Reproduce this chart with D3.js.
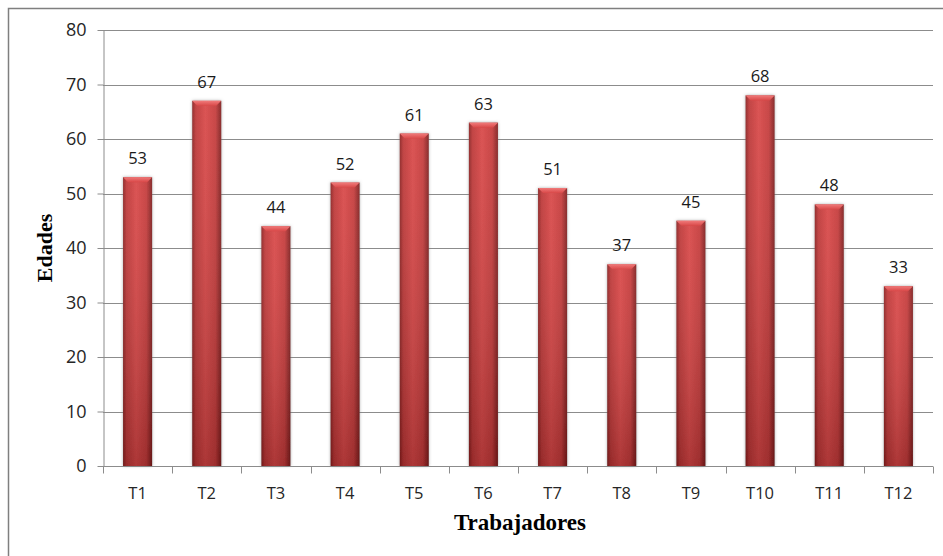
<!DOCTYPE html>
<html>
<head>
<meta charset="utf-8">
<script src="https://cdn.jsdelivr.net/npm/d3@7"></script>
<style>
	body { margin: 0; background: #fff; }
	svg text { font-family: "Open Sans", "Liberation Sans", sans-serif; }
	.axis-title { font-family: "Liberation Serif", "DejaVu Serif", serif !important; font-weight: bold; fill: #000; }
</style>
</head>
<body>
<div id="chart"></div>
<script>
var categories = ['T1', 'T2', 'T3', 'T4', 'T5', 'T6', 'T7', 'T8', 'T9', 'T10', 'T11', 'T12'];
var edades = [53, 67, 44, 52, 61, 63, 51, 37, 45, 68, 48, 33];
var yTicks = [0, 10, 20, 30, 40, 50, 60, 70, 80];

var width = 943,
	height = 556,
	margin = { top: 30, right: 10, bottom: 90, left: 103 },
	plotW = 933 - margin.left,
	plotH = 466 - margin.top;

var svg = d3.select('#chart').append('svg')
	.attr('width', width)
	.attr('height', height);

var defs = svg.append('defs');

// horizontal shading: dark edges, lighter middle
var hGrad = defs.append('linearGradient')
	.attr('id', 'bar-h')
	.attr('x1', 0).attr('y1', 0)
	.attr('x2', 1).attr('y2', 0);
hGrad.selectAll('stop')
	.data([
		{ offset: '0%', color: '#8a1f1f' },
		{ offset: '12%', color: '#bc3535' },
		{ offset: '45%', color: '#d84545' },
		{ offset: '80%', color: '#c43939' },
		{ offset: '100%', color: '#7e1c1c' }
	])
	.enter().append('stop')
	.attr('offset', function(d) { return d.offset; })
	.attr('stop-color', function(d) { return d.color; });

// vertical darkening towards the base
var vGrad = defs.append('linearGradient')
	.attr('id', 'bar-v')
	.attr('x1', 0).attr('y1', 0)
	.attr('x2', 0).attr('y2', 1);
vGrad.selectAll('stop')
	.data([
		{ offset: '0%', color: 'rgba(255,255,255,0.08)' },
		{ offset: '100%', color: 'rgba(0,0,0,0.2)' }
	])
	.enter().append('stop')
	.attr('offset', function(d) { return d.offset; })
	.attr('stop-color', function(d) { return d.color; });

var capGrad = defs.append('linearGradient')
	.attr('id', 'bar-cap')
	.attr('x1', 0).attr('y1', 0)
	.attr('x2', 0).attr('y2', 1);
capGrad.selectAll('stop')
	.data([
		{ offset: '0%', color: '#f07a7a' },
		{ offset: '100%', color: '#d84848' }
	])
	.enter().append('stop')
	.attr('offset', function(d) { return d.offset; })
	.attr('stop-color', function(d) { return d.color; });

var shadow = defs.append('filter')
	.attr('id', 'bar-shadow')
	.attr('x', '-30%').attr('y', '-5%')
	.attr('width', '160%').attr('height', '110%');
shadow.append('feDropShadow')
	.attr('dx', 0).attr('dy', 0)
	.attr('stdDeviation', 1.4)
	.attr('flood-color', '#777')
	.attr('flood-opacity', 0.6);

// outer frame (only top and left edges fall inside the picture)
svg.append('rect')
	.attr('x', 8.5).attr('y', 8.5)
	.attr('width', 950).attr('height', 560)
	.attr('fill', 'none')
	.attr('stroke', '#7f7f7f')
	.attr('stroke-width', 1.5);

var g = svg.append('g')
	.attr('transform', 'translate(' + margin.left + ',' + margin.top + ')');

var x = d3.scaleBand()
	.domain(categories)
	.range([0, plotW])
	.paddingInner(0.58)
	.paddingOuter(0.29);

var xEdges = d3.scaleLinear()
	.domain([0, categories.length])
	.range([0, plotW]);

var y = d3.scaleLinear()
	.domain([0, 80])
	.range([plotH, 0]);

// gridlines
g.append('g')
	.selectAll('line')
	.data(yTicks.slice(1))
	.enter().append('line')
	.attr('x1', 0).attr('x2', plotW)
	.attr('y1', function(d) { return Math.round(y(d)) + 0.5; })
	.attr('y2', function(d) { return Math.round(y(d)) + 0.5; })
	.attr('stroke', '#8c8c8c')
	.attr('stroke-width', 1);

// y axis
var yAxis = g.append('g')
	.attr('transform', 'translate(0.5,0)')
	.call(d3.axisLeft(y).tickValues(yTicks).tickSize(6).tickPadding(11).tickSizeOuter(0));
yAxis.attr('font-size', null).attr('font-family', null);
yAxis.select('.domain').attr('stroke', '#8c8c8c');
yAxis.selectAll('.tick line').attr('stroke', '#8c8c8c');
yAxis.selectAll('.tick text')
	.attr('fill', '#262626')
	.style('font-size', '18px');

// x axis: line with ticks at category boundaries
var xAxis = g.append('g')
	.attr('transform', 'translate(0,' + (plotH + 0.5) + ')');
xAxis.append('line')
	.attr('x1', 0).attr('x2', plotW)
	.attr('stroke', '#8c8c8c');
xAxis.selectAll('line.tick')
	.data(d3.range(categories.length + 1))
	.enter().append('line')
	.attr('class', 'tick')
	.attr('x1', function(d) { return Math.round(xEdges(d)) + 0.5; })
	.attr('x2', function(d) { return Math.round(xEdges(d)) + 0.5; })
	.attr('y1', 0).attr('y2', 7)
	.attr('stroke', '#8c8c8c');
xAxis.selectAll('text')
	.data(categories)
	.enter().append('text')
	.attr('x', function(d) { return x(d) + x.bandwidth() / 2; })
	.attr('y', 32)
	.attr('text-anchor', 'middle')
	.attr('fill', '#262626')
	.style('font-size', '16.5px')
	.text(function(d) { return d; });

// bars
var bars = g.append('g')
	.selectAll('g.bar')
	.data(edades)
	.enter().append('g')
	.attr('class', 'bar')
	.attr('filter', 'url(#bar-shadow)');

bars.append('rect')
	.attr('x', function(d, i) { return x(categories[i]); })
	.attr('y', function(d) { return y(d); })
	.attr('width', x.bandwidth())
	.attr('height', function(d) { return plotH - y(d); })
	.attr('fill', 'url(#bar-h)');

bars.append('rect')
	.attr('x', function(d, i) { return x(categories[i]); })
	.attr('y', function(d) { return y(d); })
	.attr('width', x.bandwidth())
	.attr('height', function(d) { return plotH - y(d); })
	.attr('fill', 'url(#bar-v)');

// bevelled top
bars.append('path')
	.attr('d', function(d, i) {
		var x0 = x(categories[i]),
			x1 = x0 + x.bandwidth(),
			y0 = y(d),
			b = 5;
		return 'M' + x0 + ',' + y0 + 'L' + x1 + ',' + y0 +
			'L' + (x1 - b) + ',' + (y0 + b) + 'L' + (x0 + b) + ',' + (y0 + b) + 'Z';
	})
	.attr('fill', 'url(#bar-cap)');

// value labels
g.append('g')
	.selectAll('text')
	.data(edades)
	.enter().append('text')
	.attr('x', function(d, i) { return x(categories[i]) + x.bandwidth() / 2; })
	.attr('y', function(d) { return y(d) - 13; })
	.attr('text-anchor', 'middle')
	.attr('fill', '#1a1a1a')
	.style('font-size', '16.5px')
	.text(function(d) { return d; });

// axis titles
svg.append('text')
	.attr('class', 'axis-title')
	.attr('transform', 'translate(52,248) rotate(-90)')
	.attr('text-anchor', 'middle')
	.style('font-size', '22px')
	.text('Edades');

svg.append('text')
	.attr('class', 'axis-title')
	.attr('x', 520)
	.attr('y', 530)
	.attr('text-anchor', 'middle')
	.style('font-size', '23px')
	.text('Trabajadores');
</script>
</body>
</html>
